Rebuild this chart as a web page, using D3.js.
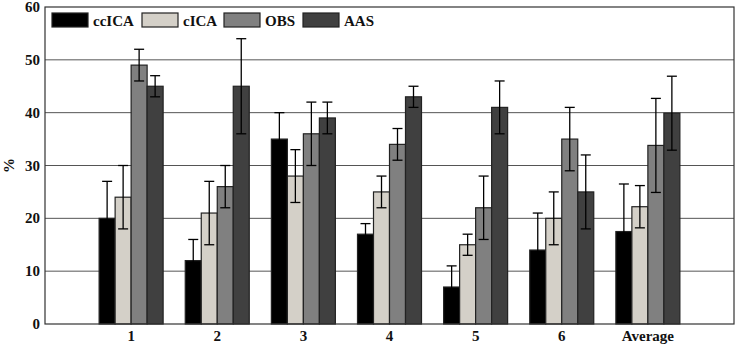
<!DOCTYPE html>
<html><head><meta charset="utf-8">
<script src="https://cdn.jsdelivr.net/npm/d3@7"></script>
<style>body{margin:0;background:#fff}svg{display:block}</style>
</head><body>
<script>
const categories = ["1","2","3","4","5","6","Average"];
const seriesNames = ["ccICA","cICA","OBS","AAS"];
const seriesColors = ["#000000","#d4d0c8","#808080","#404040"];
const ccICA = [20,12,35,17,7,14,17.5];
const cICA  = [24,21,28,25,15,20,22.2];
const OBS   = [49,26,36,34,22,35,33.8];
const AAS   = [45,45,39,43,41,25,39.9];
const ccICAerr = [7,4,5,2,4,7,9];
const cICAerr  = [6,6,5,3,2,5,4];
const OBSerr   = [3,4,6,3,6,6,8.9];
const AASerr   = [2,9,3,2,5,7,7];
const yTicks = [0,10,20,30,40,50,60];

const values = [ccICA,cICA,OBS,AAS];
const errs = [ccICAerr,cICAerr,OBSerr,AASerr];

const W=737,H=347;
const m={l:45,r:3,t:7,b:23};
const svg=d3.select("body").append("svg").attr("width",W).attr("height",H);
const x=d3.scalePoint().domain(categories).range([m.l,W-m.r]).padding(1);
const y=d3.scaleLinear().domain([0,60]).range([H-m.b,m.t]);
const xs=d3.scaleBand().domain(seriesNames).range([-32,32]);
const font="Liberation Serif, Times New Roman, Tinos, serif";

// gridlines
svg.append("g").selectAll("line").data(yTicks.slice(1,-1)).join("line")
 .attr("x1",m.l).attr("x2",W-m.r).attr("y1",d=>y(d)).attr("y2",d=>y(d))
 .attr("stroke","#555").attr("stroke-width",1);

// bars
const gs=svg.append("g").selectAll("g").data(seriesNames).join("g");
gs.each(function(s,si){
  const g=d3.select(this);
  g.selectAll("rect").data(categories).join("rect")
   .attr("x",c=>x(c)+xs(s)).attr("width",xs.bandwidth())
   .attr("y",(c,i)=>y(values[si][i])).attr("height",(c,i)=>y(0)-y(values[si][i]))
   .attr("fill",seriesColors[si]).attr("stroke","#222").attr("stroke-width",1.2);
});
// error bars
gs.each(function(s,si){
  const g=d3.select(this).append("g").attr("stroke","#000").attr("stroke-width",1.3);
  categories.forEach((c,i)=>{
    const cx=x(c)+xs(s)+xs.bandwidth()/2;
    const v=values[si][i], e=errs[si][i];
    g.append("line").attr("x1",cx).attr("x2",cx).attr("y1",y(v+e)).attr("y2",y(v-e));
    g.append("line").attr("x1",cx-5).attr("x2",cx+5).attr("y1",y(v+e)).attr("y2",y(v+e));
    g.append("line").attr("x1",cx-5).attr("x2",cx+5).attr("y1",y(v-e)).attr("y2",y(v-e));
  });
});

// frame
svg.append("rect").attr("x",m.l).attr("y",m.t).attr("width",W-m.r-m.l).attr("height",y(0)-m.t)
 .attr("fill","none").attr("stroke","#333").attr("stroke-width",1.2);

// y axis labels
svg.append("g").selectAll("text").data(yTicks).join("text")
 .attr("x",40).attr("y",d=>y(d)+5).attr("text-anchor","end")
 .style("font-family",font).attr("font-weight","bold").attr("font-size",15).attr("fill","#111")
 .text(d=>d);
svg.append("text").attr("transform",`translate(14,${y(30)}) rotate(-90)`).attr("text-anchor","middle")
 .style("font-family",font).attr("font-weight","bold").attr("font-size",15).attr("fill","#111").text("%");

// x labels
svg.append("g").selectAll("text").data(categories).join("text")
 .attr("x",c=>x(c)).attr("y",H-6).attr("text-anchor","middle")
 .style("font-family",font).attr("font-weight","bold").attr("font-size",15).attr("fill","#111")
 .text(c=>c);

// legend
const legX=[52,142,224,303];
const lg=svg.append("g");
seriesNames.forEach((s,i)=>{
  lg.append("rect").attr("x",legX[i]).attr("y",13).attr("width",36).attr("height",14)
   .attr("fill",seriesColors[i]).attr("stroke","#222").attr("stroke-width",1.2);
  lg.append("text").attr("x",legX[i]+41).attr("y",25.5)
   .style("font-family",font).attr("font-weight","bold").attr("font-size",15).attr("fill","#111").text(s);
});
</script>
</body></html>
